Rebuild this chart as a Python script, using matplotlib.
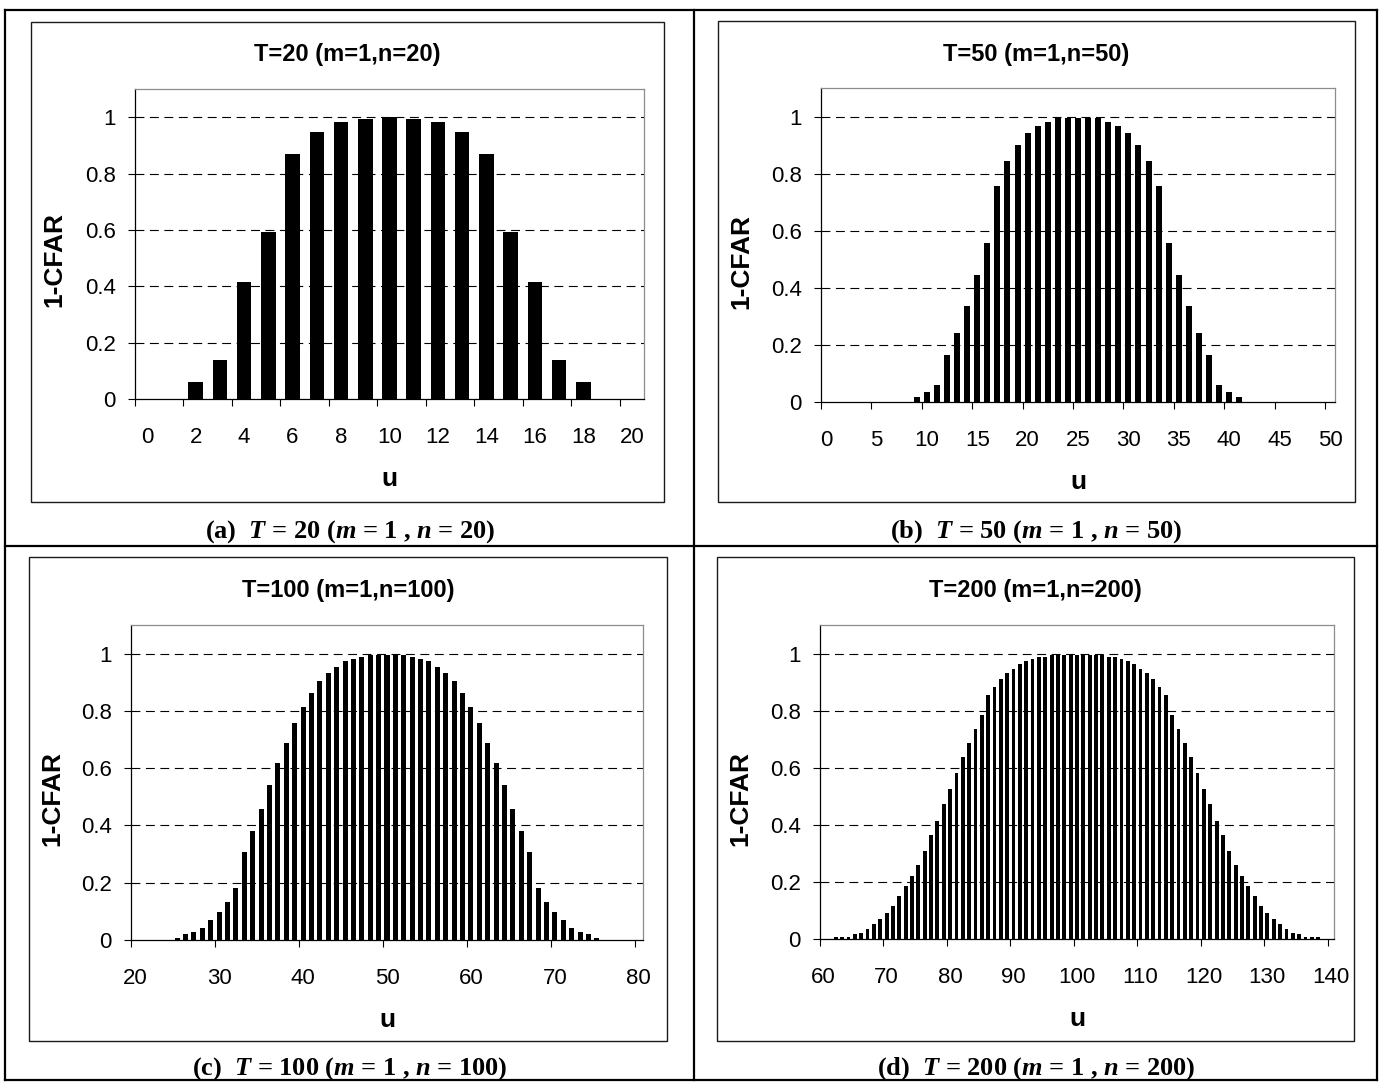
import matplotlib
matplotlib.use("Agg")
import matplotlib.pyplot as plt
from matplotlib.lines import Line2D
from matplotlib.patches import Rectangle

plt.rcParams['font.family'] = ['Liberation Sans', 'DejaVu Sans']
plt.rcParams['mathtext.fontset'] = 'custom'
plt.rcParams['mathtext.it'] = 'Liberation Serif:italic:bold'
plt.rcParams['mathtext.rm'] = 'Liberation Serif:bold'
plt.rcParams['mathtext.bf'] = 'Liberation Serif:bold'

# ---- data ----
a_u = list(range(0, 21))
a_vals = [0, 0, 0.061, 0.138, 0.416, 0.592, 0.868, 0.946, 0.982, 0.995, 1.0,
          0.995, 0.982, 0.946, 0.868, 0.592, 0.416, 0.138, 0.061, 0, 0]

b_u = list(range(9, 42))
b_vals = [0.016, 0.036, 0.058, 0.163, 0.242, 0.338, 0.444, 0.556, 0.758, 0.843,
          0.899, 0.941, 0.967, 0.982, 0.995, 0.995, 0.995, 0.995, 0.995, 0.982,
          0.967, 0.941, 0.899, 0.843, 0.758, 0.556, 0.444, 0.338, 0.242, 0.163,
          0.058, 0.036, 0.016]

c_u = list(range(25, 76))
c_vals = [0.008, 0.022, 0.028, 0.042, 0.070, 0.098, 0.132, 0.182, 0.306, 0.382,
          0.459, 0.542, 0.619, 0.688, 0.758, 0.813, 0.863, 0.903, 0.932, 0.953,
          0.975, 0.980, 0.988, 0.994, 0.994, 0.994, 0.994, 0.994, 0.988, 0.980,
          0.975, 0.953, 0.932, 0.903, 0.863, 0.813, 0.758, 0.688, 0.619, 0.542,
          0.459, 0.382, 0.306, 0.182, 0.132, 0.098, 0.070, 0.042, 0.028, 0.022,
          0.008]

d_u = list(range(62, 139))
d_vals = [0.007, 0.007, 0.007, 0.016, 0.021, 0.035, 0.051, 0.071, 0.091, 0.114,
          0.149, 0.184, 0.219, 0.260, 0.310, 0.365, 0.415, 0.473, 0.526, 0.583,
          0.639, 0.688, 0.737, 0.786, 0.855, 0.884, 0.911, 0.933, 0.945, 0.962,
          0.973, 0.981, 0.987, 0.987, 0.996, 0.996, 0.996, 0.996, 0.996, 0.996,
          0.996, 0.996, 0.996, 0.987, 0.987, 0.981, 0.973, 0.962, 0.945, 0.933,
          0.911, 0.884, 0.855, 0.786, 0.737, 0.688, 0.639, 0.583, 0.526, 0.473,
          0.415, 0.365, 0.310, 0.260, 0.219, 0.184, 0.149, 0.114, 0.091, 0.071,
          0.051, 0.035, 0.021, 0.016, 0.007, 0.007, 0.007]

titles = ["T=20 (m=1,n=20)", "T=50 (m=1,n=50)",
          "T=100 (m=1,n=100)", "T=200 (m=1,n=200)"]
captions = [r"(a)  $T$ = 20 ($m$ = 1 , $n$ = 20)",
            r"(b)  $T$ = 50 ($m$ = 1 , $n$ = 50)",
            r"(c)  $T$ = 100 ($m$ = 1 , $n$ = 100)",
            r"(d)  $T$ = 200 ($m$ = 1 , $n$ = 200)"]
y_ticks = [0, 0.2, 0.4, 0.6, 0.8, 1.0]
y_ticklabels = ['0', '0.2', '0.4', '0.6', '0.8', '1']

W, H = 1386, 1082
fig = plt.figure(figsize=(W / 100, H / 100), dpi=100)


def fx(x):
    return x / W


def fy(y):
    return 1 - y / H


def hline(x0, x1, y, lw=1.6):
    fig.add_artist(Line2D([fx(x0), fx(x1)], [fy(y), fy(y)],
                          transform=fig.transFigure, color='k', lw=lw))


def vline(x, y0, y1, lw=1.6):
    fig.add_artist(Line2D([fx(x), fx(x)], [fy(y0), fy(y1)],
                          transform=fig.transFigure, color='k', lw=lw))


# table lines
hline(5, 1377, 10)
hline(5, 1377, 546)
hline(5, 1377, 1080)
vline(5, 10, 1080)
vline(694, 10, 1080)
vline(1377, 10, 1080)

# (u, values, first category, last category, label step, box, plot area, caption centre x, caption y)
panels = [
    (a_u, a_vals, 0, 20, 2, (31, 22, 664, 502), (135, 89, 644, 399), 350, 532),
    (b_u, b_vals, 0, 50, 5, (718, 21, 1355, 502), (821, 88, 1335, 402), 1036, 532),
    (c_u, c_vals, 20, 80, 10, (29, 557, 667, 1041), (131, 625, 643, 940), 350, 1069),
    (d_u, d_vals, 60, 140, 10, (717, 557, 1354, 1041), (820, 625, 1334, 939), 1036, 1069),
]

for i, (u, vals, c0, c1, step, box, plot, cap_x, cap_y) in enumerate(panels):
    bl, bt, br, bb = box
    pl, pt, pr, pb = plot
    fig.add_artist(Rectangle((fx(bl), fy(bb)), (br - bl) / W, (bb - bt) / H,
                             transform=fig.transFigure, fill=False,
                             ec='#1a1a1a', lw=1.0))
    ax = fig.add_axes([fx(pl), fy(pb), (pr - pl) / W, (pb - pt) / H])
    ax.bar(u, vals, width=0.6, color='black', zorder=3)
    for yv in y_ticks[1:]:
        ax.axhline(yv, color='k', lw=0.8, dashes=(8, 5), zorder=1)
    ax.set_xlim(c0 - 0.5, c1 + 0.5)
    ax.set_ylim(0, 1.1)

    labels = list(range(c0, c1 + 1, step))
    ax.set_xticks([v - 0.5 for v in labels])
    ax.set_xticklabels([])
    ax.set_xticks(labels, minor=True)
    ax.set_xticklabels([str(v) for v in labels], minor=True)
    ax.tick_params(axis='x', which='major', direction='out', length=5, width=0.8)
    ax.tick_params(axis='x', which='minor', length=0, pad=20, labelsize=16)
    ax.set_yticks(y_ticks)
    ax.set_yticklabels(y_ticklabels)
    ax.tick_params(axis='y', direction='out', length=5, width=0.8, pad=9,
                   labelsize=16)

    for s in ['left', 'bottom']:
        ax.spines[s].set_color('black')
        ax.spines[s].set_linewidth(0.9)
    for s in ['top', 'right']:
        ax.spines[s].set_color('#8c8c8c')
        ax.spines[s].set_linewidth(0.9)

    fig.text(fx((bl + br) / 2), fy(bt + 33), titles[i], ha='center', va='center',
             fontsize=17, fontweight='bold')
    fig.text(fx((pl + pr) / 2), fy(pb + 80), 'u', ha='center', va='center',
             fontsize=19, fontweight='bold')
    fig.text(fx(bl + 23), fy((pt + pb) / 2 + 16), '1-CFAR', ha='center',
             va='center', rotation=90, fontsize=19, fontweight='bold')
    fig.text(fx(cap_x), fy(cap_y), captions[i], ha='center', va='center',
             fontsize=19, fontfamily='Liberation Serif', fontweight='bold')

fig.savefig('out.png', dpi=100)
